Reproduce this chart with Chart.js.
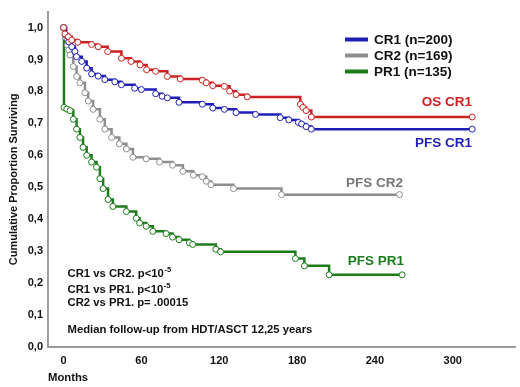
<!DOCTYPE html>
<html>
<head>
<meta charset="utf-8">
<script src="https://cdn.jsdelivr.net/npm/chart.js@4.4.1/dist/chart.umd.min.js"></script>
<style>
  html, body { margin: 0; padding: 0; background: #fff; }
  #wrap { width: 520px; height: 387px; }
</style>
</head>
<body>
<div id="wrap"><canvas id="kmChart" width="520" height="387"></canvas></div>
<script>
// Kaplan-Meier curves (months, proportion surviving)
const osCr1Months = [0, 1, 3.7, 6.3, 11, 21.6, 26.7, 34, 44.6, 52, 59, 64, 71, 80, 90, 107, 110, 115, 124, 128, 133, 141.6, 182.5, 184.5, 187, 191, 315];
const osCr1Surv = [1.0, 0.98, 0.971, 0.961, 0.954, 0.947, 0.94, 0.925, 0.904, 0.894, 0.883, 0.868, 0.863, 0.847, 0.839, 0.835, 0.827, 0.818, 0.816, 0.801, 0.79, 0.783, 0.76, 0.75, 0.74, 0.72, 0.72];

const pfsCr1Months = [0, 2, 4, 6.3, 8.8, 10, 14, 17.8, 21.6, 26.7, 31.8, 39.5, 44.6, 54.8, 60, 71, 76, 80, 89, 107, 115, 124, 133, 148, 167, 173.6, 181, 183.5, 187, 191, 315];
const pfsCr1Surv = [1.0, 0.975, 0.955, 0.94, 0.925, 0.909, 0.894, 0.873, 0.855, 0.848, 0.837, 0.83, 0.821, 0.81, 0.806, 0.793, 0.785, 0.78, 0.766, 0.76, 0.748, 0.744, 0.734, 0.728, 0.718, 0.711, 0.703, 0.698, 0.69, 0.682, 0.682];

const pfsCr2Months = [0, 1.5, 3, 4, 5, 7.5, 10, 12.6, 16.5, 19, 22.8, 28, 31.8, 37, 43, 48.4, 53.5, 63.7, 74, 84, 92, 100, 107, 110, 113.6, 131, 168, 259];
const pfsCr2Surv = [1.0, 0.97, 0.945, 0.93, 0.914, 0.878, 0.847, 0.827, 0.796, 0.77, 0.744, 0.713, 0.682, 0.656, 0.636, 0.62, 0.594, 0.589, 0.579, 0.569, 0.55, 0.538, 0.533, 0.519, 0.508, 0.496, 0.477, 0.477];

const pfsPr1Months = [0, 0.3, 2.5, 5, 7.5, 10, 12.6, 15, 17.8, 21.6, 25.4, 28, 30.5, 34.3, 38, 48.4, 56, 58.6, 63.7, 68.8, 79, 84, 89, 97, 99.5, 117.4, 121, 178.7, 185.6, 204.7, 261];
const pfsPr1Surv = [1.0, 0.75, 0.745, 0.74, 0.713, 0.682, 0.656, 0.625, 0.6, 0.579, 0.563, 0.527, 0.496, 0.462, 0.44, 0.424, 0.403, 0.388, 0.378, 0.362, 0.355, 0.344, 0.336, 0.326, 0.321, 0.306, 0.298, 0.277, 0.254, 0.226, 0.226];

const xTicks = [0, 60, 120, 180, 240, 300];
const legendLabels = ['CR1 (n=200)', 'CR2 (n=169)', 'PR1 (n=135)'];
const pValueLines = ['CR1 vs CR2. p<10', 'CR1 vs PR1. p<10', 'CR2 vs PR1. p= .00015'];
const followUpText = 'Median follow-up from HDT/ASCT 12,25 years';

const RED = '#cc2222';
const BLUE = '#1f1fb8';
const GRAY = '#8e8e8e';
const GREEN = '#1c7c1c';
const FONT = 'Arial, "Liberation Sans", sans-serif';

function toPoints(months, surv) {
  return months.map((m, i) => ({ x: m, y: surv[i] }));
}

function kmDataset(label, months, surv, color) {
  return {
    label,
    data: toPoints(months, surv),
    stepped: true,
    borderColor: color,
    borderWidth: 2.5,
    pointStyle: 'circle',
    pointRadius: 3,
    pointBorderWidth: 1,
    pointBorderColor: color,
    pointBackgroundColor: '#fff',
    fill: false
  };
}

// legend + labels drawn on top of the chart
const annotations = {
  id: 'annotations',
  afterDraw(chart) {
    const ctx = chart.ctx;
    ctx.save();

    // legend
    const legendColors = [BLUE, GRAY, GREEN];
    ctx.font = 'bold 13.5px ' + FONT;
    ctx.textBaseline = 'middle';
    ctx.textAlign = 'left';
    legendLabels.forEach((txt, i) => {
      const y = 39.5 + i * 16;
      ctx.strokeStyle = legendColors[i];
      ctx.lineWidth = 4;
      ctx.beginPath();
      ctx.moveTo(345, y);
      ctx.lineTo(368, y);
      ctx.stroke();
      ctx.fillStyle = '#111';
      ctx.fillText(txt, 374, y + 1);
    });

    // curve names
    ctx.font = 'bold 13.5px ' + FONT;
    ctx.textAlign = 'right';
    ctx.fillStyle = RED;
    ctx.fillText('OS CR1', 472, 102);
    ctx.fillStyle = BLUE;
    ctx.fillText('PFS CR1', 472, 143);
    ctx.fillStyle = '#777';
    ctx.fillText('PFS CR2', 403, 183);
    ctx.fillStyle = GREEN;
    ctx.fillText('PFS PR1', 404, 261);

    // p-values
    ctx.textAlign = 'left';
    ctx.textBaseline = 'alphabetic';
    ctx.fillStyle = '#111';
    const pY = [277.3, 292.8, 306.2];
    pValueLines.forEach((txt, i) => {
      ctx.font = 'bold 11.3px ' + FONT;
      ctx.fillText(txt, 67.5, pY[i]);
      if (i < 2) {
        const w = ctx.measureText(txt).width;
        ctx.font = 'bold 7.5px ' + FONT;
        ctx.fillText('-5', 67.5 + w + 0.5, pY[i] - 5);
      }
    });
    ctx.font = 'bold 11.3px ' + FONT;
    ctx.fillText(followUpText, 67.5, 333.3);

    ctx.restore();
  }
};

const data = {
  datasets: [
    kmDataset('OS CR1', osCr1Months, osCr1Surv, RED),
    kmDataset('PFS CR1', pfsCr1Months, pfsCr1Surv, BLUE),
    kmDataset('PFS CR2', pfsCr2Months, pfsCr2Surv, GRAY),
    kmDataset('PFS PR1', pfsPr1Months, pfsPr1Surv, GREEN)
  ]
};

const config = {
  type: 'line',
  data,
  options: {
    responsive: false,
    animation: false,
    layout: { padding: { left: 7, right: 2, top: 8, bottom: 0 } },
    plugins: {
      legend: { display: false },
      tooltip: { enabled: false }
    },
    scales: {
      x: {
        type: 'linear',
        min: -12,
        max: 348,
        afterFit(scale) { scale.height = 40; },
        afterBuildTicks(scale) { scale.ticks = xTicks.map(v => ({ value: v })); },
        grid: { display: false, drawTicks: false, tickLength: 0 },
        border: { display: true, color: '#9c9c9c', width: 2 },
        ticks: {
          padding: 7,
          color: '#111',
          font: { family: FONT, size: 11, weight: 'bold' }
        },
        title: {
          display: true,
          text: 'Months',
          align: 'start',
          color: '#111',
          padding: { top: 0, bottom: 2 },
          font: { family: FONT, size: 11.3, weight: 'bold' }
        }
      },
      y: {
        min: 0,
        max: 1.05,
        afterFit(scale) { scale.width = 41; },
        grid: { display: false, drawTicks: false, tickLength: 0 },
        border: { display: true, color: '#9c9c9c', width: 2 },
        ticks: {
          stepSize: 0.1,
          includeBounds: false,
          padding: 5,
          color: '#111',
          font: { family: FONT, size: 11, weight: 'bold' },
          callback: v => v.toFixed(1).replace('.', ',')
        },
        title: {
          display: true,
          text: 'Cumulative Proportion Surviving',
          color: '#111',
          padding: { top: 0, bottom: 0 },
          font: { family: FONT, size: 11, weight: 'bold' }
        }
      }
    }
  },
  plugins: [annotations]
};

const kmChart = new Chart(document.getElementById('kmChart'), config);
</script>
</body>
</html>
